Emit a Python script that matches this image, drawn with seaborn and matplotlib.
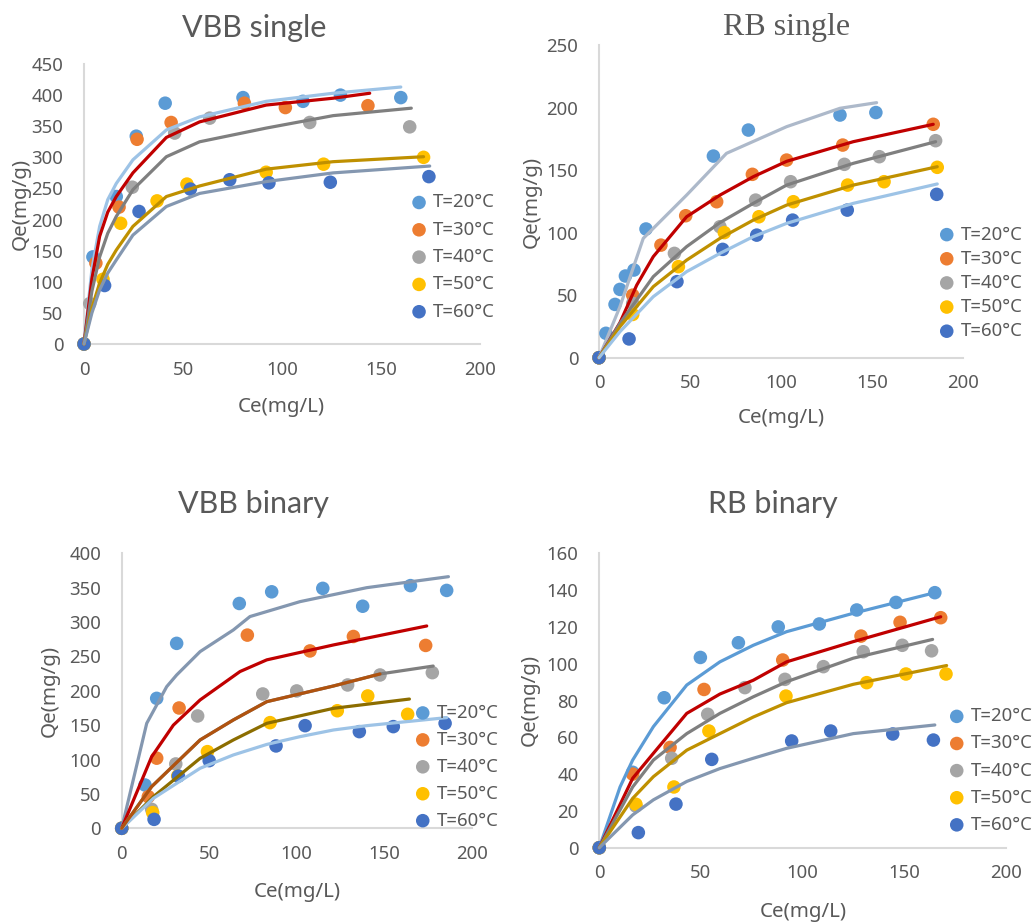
import matplotlib
matplotlib.use("Agg")
import matplotlib.pyplot as plt
import seaborn as sns
import pandas as pd

sns.set_style("white")
plt.rcParams["font.family"] = ["Noto Sans", "DejaVu Sans"]

W, H = 1033, 923
TXT = "#595959"
FS = 13.4
LFS = 14.8

TEMPS = ["T=20°C", "T=30°C", "T=40°C", "T=50°C", "T=60°C"]
PT_COLORS = ["#5B9BD5", "#ED7D31", "#A5A5A5", "#FFC000", "#4472C4"]

# ---------------- VBB single ----------------
vs_px20 = [0, 4.5, 16.3, 26.4, 41, 80.3, 110.6, 129.5, 160]
vs_py20 = [0, 140, 237, 334, 387, 396, 390, 400, 396]
vs_px30 = [0, 6, 17.7, 26.8, 44, 81, 101.7, 143.4]
vs_py30 = [0, 130, 220, 329, 356, 387, 380, 383]
vs_px40 = [0, 2.9, 24.4, 45.8, 63.5, 114, 164.5]
vs_py40 = [0, 65, 252, 339, 363, 356, 349]
vs_px50 = [0, 9.6, 18.5, 36.9, 52, 92, 121, 171.5]
vs_py50 = [0, 104, 194, 230, 257, 276, 289, 300]
vs_px60 = [0, 10.4, 27.8, 53.7, 73.6, 93.4, 124.4, 174.2]
vs_py60 = [0, 94, 213, 249, 264, 259, 260, 269]

vs_cx20 = [0, 4, 7.9, 12, 16.3, 24.7, 41.6, 58.4, 92, 125.8, 160]
vs_cy20 = [0, 120, 189, 232, 258, 296, 344, 365, 390, 403, 413]
vs_cx30 = [0, 4, 7.9, 12, 16.3, 24.7, 41.6, 58.4, 92, 125.8, 144.3]
vs_cy30 = [0, 105, 173, 212, 237, 275, 332, 357, 384, 395, 403]
vs_cx40 = [0, 4, 7.9, 12, 16.3, 24.7, 41.6, 58.4, 92, 125.8, 165.3]
vs_cy40 = [0, 85, 140, 178, 205, 248, 301, 325, 347, 367, 379]
vs_cx50 = [0, 4, 7.9, 12, 16.3, 24.7, 41.6, 58.4, 92, 125.8, 171.5]
vs_cy50 = [0, 58, 98, 128, 151, 189, 237, 254, 281, 293, 301]
vs_cx60 = [0, 4, 7.9, 12, 16.3, 24.7, 41.6, 58.4, 92, 125.8, 174.6]
vs_cy60 = [0, 50, 87, 114, 135, 175, 221, 242, 261, 275, 286]
vs_ccol = ["#9DC3E6", "#C00000", "#7F7F7F", "#BF9000", "#8497B0"]

# ---------------- RB single ----------------
rs_px20 = [0, 3.8, 8.8, 11.5, 14.5, 19.2, 25.8, 62.8, 82, 132.3, 152]
rs_py20 = [0, 19.5, 42.6, 54.6, 65.3, 70.1, 102.9, 161.2, 182, 194, 196]
rs_px30 = [0, 18.5, 34, 47.6, 64.6, 84.2, 103, 133.8, 183.5]
rs_py30 = [0, 50, 90, 113.5, 124.7, 146.6, 158, 170, 186.6]
rs_px40 = [0, 18.5, 41.4, 66.4, 86, 105.2, 134.7, 153.9, 184.8]
rs_py40 = [0, 43.4, 83.4, 104.7, 126, 140.7, 154.6, 160.7, 173.5]
rs_px50 = [0, 18.5, 43.6, 68.8, 87.8, 106.7, 136.5, 156.5, 185.7]
rs_py50 = [0, 34.6, 72.8, 100, 112.7, 124.7, 138, 140.7, 152.2]
rs_px60 = [0, 16.5, 42.8, 67.9, 86.6, 106.3, 136.3, 185.4]
rs_py60 = [0, 15, 60.8, 86.6, 98, 110, 118, 130.6]

rs_cx20 = [0, 11.5, 24.3, 48.1, 70, 103, 132.3, 152.4]
rs_cy20 = [0, 40.8, 95.4, 130, 163.4, 184.7, 199.4, 203.9]
rs_cx30 = [0, 11.5, 20.7, 29.8, 48.1, 66.4, 84.7, 103, 139.6, 183.5]
rs_cy30 = [0, 28, 58, 80.8, 112.7, 130, 144.7, 157, 172.7, 186.6]
rs_cx40 = [0, 11.5, 29.8, 48.1, 66.4, 84.7, 103, 139.6, 184.8]
rs_cy40 = [0, 27.5, 64.8, 88.8, 108, 123.4, 138, 155.4, 172.7]
rs_cx50 = [0, 11.5, 29.8, 48.1, 66.4, 84.7, 103, 139.6, 185.7]
rs_cy50 = [0, 24.8, 56.8, 78, 95.4, 110, 122, 138, 152.7]
rs_cx60 = [0, 11.5, 29.8, 48.1, 66.4, 84.7, 103, 139.6, 185.7]
rs_cy60 = [0, 20.8, 48.8, 68.8, 83.4, 96.8, 107.4, 123.4, 138.9]
rs_ccol = ["#ADB9CA", "#C00000", "#7F7F7F", "#BF9000", "#9DC3E6"]

# ---------------- VBB binary ----------------
vb_px20 = [0, 13.3, 20, 31.4, 67.2, 85.7, 114.9, 137.7, 165, 185.7]
vb_py20 = [0, 63, 189, 269, 327, 344, 349, 323, 353, 346]
vb_px30 = [0, 15.2, 20, 32.8, 71.8, 107.6, 132.4, 173.7]
vb_py30 = [0, 46, 102, 175, 281, 258, 279, 266]
vb_px40 = [0, 17.1, 30.9, 43.4, 80.6, 100, 129.1, 147.6, 177.5]
vb_py40 = [0, 27.6, 93.6, 163.4, 195.4, 199.8, 208.5, 223, 226.4]
vb_px50 = [0, 17.7, 32, 49, 84.8, 123.2, 140.6, 163.4]
vb_py50 = [0, 22.8, 76, 111.5, 153.7, 171, 192.5, 165.8]
vb_px60 = [0, 18.5, 32.4, 50, 88.2, 104.8, 135.8, 155.2, 184.8]
vb_py60 = [0, 13, 76, 98.4, 119.8, 149.3, 140.6, 147.9, 152.7]

vb_cx20 = [0, 14.3, 25.7, 31.4, 44.8, 63.8, 73.3, 101.9, 140, 186.7]
vb_cy20 = [0, 152.7, 206, 223, 257, 288.5, 308, 329.7, 350, 366]
vb_cx30 = [0, 17.1, 29.5, 44.8, 67.6, 82.9, 121, 174.3]
vb_cy30 = [0, 104, 150, 186.7, 228, 245, 266.7, 294.3]
vb_cx40 = [0, 17.1, 44.8, 63.8, 82.9, 121, 147.6, 178]
vb_cy40 = [0, 60.6, 128.5, 157.6, 184.2, 207, 224.5, 236]
vb_cx40b = [0, 17.1, 44.8, 63.8, 82.9, 121, 147.6]
vb_cy40b = [0, 60.6, 128.5, 157.6, 184.2, 207, 224.5]
vb_cx50 = [0, 18.1, 44.8, 63.8, 82.9, 121, 164.4]
vb_cy50 = [0, 46, 101.8, 128.5, 152.7, 174.5, 188]
vb_cx60 = [0, 18.1, 44.8, 63.8, 82.9, 101.9, 121, 140, 185.7]
vb_cy60 = [0, 43.6, 87.3, 106.7, 122, 133.3, 143, 149.3, 161]
vb_ccol = ["#8497B0", "#C00000", "#7F7F7F", "#8C6D00", "#9DC3E6"]

# ---------------- RB binary ----------------
rb_px20 = [0, 16.4, 31.9, 49.7, 68.4, 88, 108.2, 126.6, 145.9, 165]
rb_py20 = [0, 41, 81.5, 103.4, 111.4, 120, 121.6, 129.2, 133.3, 138.6]
rb_px30 = [0, 16.4, 34.8, 51.5, 90.2, 128.7, 147.9, 167.9]
rb_py30 = [0, 40, 54.5, 86, 102, 115, 122.5, 125]
rb_px40 = [0, 18, 35.6, 53.3, 71.6, 91.3, 110.2, 129.8, 149, 163.4]
rb_py40 = [0, 22.6, 48.6, 72.5, 87, 91.5, 98.4, 106.5, 110, 107]
rb_px50 = [0, 18, 36.7, 53.9, 91.8, 131.5, 150.8, 170.5]
rb_py50 = [0, 23.6, 33, 63.4, 82.4, 89.7, 94.4, 94.4]
rb_px60 = [0, 19.2, 37.7, 55.3, 94.6, 113.8, 144.3, 164.3]
rb_py60 = [0, 8.2, 23.7, 48, 58, 63.4, 61.8, 58.5]

rb_cx20 = [0, 10.2, 16.4, 26.6, 43, 59.3, 75.7, 92.1, 124.9, 165]
rb_cy20 = [0, 33, 47.6, 65.8, 88.4, 101, 110, 117.4, 127.4, 138.6]
rb_cx30 = [0, 16.4, 26.6, 43, 59.3, 75.7, 92.1, 124.9, 167.9]
rb_cy30 = [0, 37.7, 51.3, 73, 83.5, 91, 101, 112, 125.5]
rb_cx40 = [0, 16.4, 26.6, 43, 59.3, 75.7, 92.1, 124.9, 163.9]
rb_cy40 = [0, 33, 47.6, 62, 73, 82, 90.2, 103, 113.2]
rb_cx50 = [0, 16.4, 26.6, 43, 59.3, 75.7, 92.1, 124.9, 170.8]
rb_cy50 = [0, 26.8, 38.6, 53, 62, 71, 78.8, 88.8, 99]
rb_cx60 = [0, 16.4, 26.6, 43, 59.3, 75.7, 92.1, 124.9, 165]
rb_cy60 = [0, 17.8, 26, 36, 43, 48.6, 54, 62, 66.7]
rb_ccol = ["#5B9BD5", "#C00000", "#7F7F7F", "#BF9000", "#8497B0"]


fig = plt.figure(figsize=(W / 100, H / 100), dpi=100)


def fx(px):
    return px / W


def fy(py):
    return 1 - py / H


def panel(px0, px1, py0, py1, xmax, ymax, ystep, points, curves, ccols,
          title, tfont, tsize, tpos, leg, lspacing, xlab, ylab, extra=None):
    ax = fig.add_axes([fx(px0), fy(py0), (px1 - px0) / W, (py0 - py1) / H])
    # fitted curves
    for (cx, cy), col in zip(curves, ccols):
        sns.lineplot(x=cx, y=cy, color=col, lw=2.3, sort=False, estimator=None,
                     legend=False, ax=ax, zorder=4, clip_on=False)
    if extra is not None:
        cx, cy, col = extra
        sns.lineplot(x=cx, y=cy, color=col, lw=2.3, sort=False, estimator=None,
                     legend=False, ax=ax, zorder=4, clip_on=False)
    # experimental points
    for (x, y), lab, col in zip(points, TEMPS, PT_COLORS):
        sns.scatterplot(x=x, y=y, color=col, s=95, edgecolor="none", label=lab,
                        ax=ax, zorder=3, clip_on=False)
    ax.set_xlim(0, xmax)
    ax.set_ylim(0, ymax)
    ax.set_xticks(range(0, xmax + 1, 50))
    ax.set_yticks(range(0, ymax + 1, ystep))
    ax.tick_params(length=0, labelsize=FS, labelcolor=TXT)
    ax.tick_params(axis="x", pad=12)
    ax.tick_params(axis="y", pad=14.8)
    for s in ["top", "right"]:
        ax.spines[s].set_visible(False)
    for s in ["left", "bottom"]:
        ax.spines[s].set_color("#D9D9D9")
        ax.spines[s].set_linewidth(1.5)
    ax.set_xlabel("Ce(mg/L)", fontsize=LFS, color=TXT)
    ax.set_ylabel("Qe(mg/g)", fontsize=LFS, color=TXT)
    ax.xaxis.set_label_coords(fx(xlab[0]), fy(xlab[1]), transform=fig.transFigure)
    ax.yaxis.set_label_coords(fx(ylab[0]), fy(ylab[1]), transform=fig.transFigure)
    ax.xaxis.label.set_va("center")
    ax.yaxis.label.set_va("center")
    h, l = ax.get_legend_handles_labels()
    ax.legend(h, l, loc="center left", bbox_to_anchor=(fx(leg[0]), fy(leg[1])),
              bbox_transform=fig.transFigure, frameon=False, borderpad=0,
              borderaxespad=0, handlelength=0.8, handletextpad=0.35,
              labelspacing=lspacing, fontsize=FS, labelcolor=TXT, scatterpoints=1)
    fig.text(fx(tpos[0]), fy(tpos[1]), title, ha="center", va="baseline",
             fontsize=tsize, color=TXT, family=tfont)
    return ax


panel(84, 480, 344, 64, 200, 450, 50,
      [(vs_px20, vs_py20), (vs_px30, vs_py30), (vs_px40, vs_py40),
       (vs_px50, vs_py50), (vs_px60, vs_py60)],
      [(vs_cx20, vs_cy20), (vs_cx30, vs_cy30), (vs_cx40, vs_cy40),
       (vs_cx50, vs_cy50), (vs_cx60, vs_cy60)], vs_ccol,
      "VBB single", ["Lato", "DejaVu Sans"], 22, (254, 37),
      (411.6, 257), 0.5, (281, 407), (21, 204))

panel(599, 963.3, 357.7, 45, 200, 250, 50,
      [(rs_px20, rs_py20), (rs_px30, rs_py30), (rs_px40, rs_py40),
       (rs_px50, rs_py50), (rs_px60, rs_py60)],
      [(rs_cx20, rs_cy20), (rs_cx30, rs_cy30), (rs_cx40, rs_cy40),
       (rs_cx50, rs_cy50), (rs_cx60, rs_cy60)], rs_ccol,
      "RB single", ["Liberation Serif", "DejaVu Serif"], 23, (787, 35),
      (939.3, 282.8), 0.33, (781, 418), (532, 202))

panel(121.7, 471.7, 828.3, 553.3, 200, 400, 50,
      [(vb_px20, vb_py20), (vb_px30, vb_py30), (vb_px40, vb_py40),
       (vb_px50, vb_py50), (vb_px60, vb_py60)],
      [(vb_cx20, vb_cy20), (vb_cx30, vb_cy30), (vb_cx40, vb_cy40),
       (vb_cx50, vb_cy50), (vb_cx60, vb_cy60)], vb_ccol,
      "VBB binary", ["Lato", "DejaVu Sans"], 22, (254, 513),
      (415.3, 766.7), 0.48, (297, 891.7), (50, 691),
      extra=(vb_cx40b, vb_cy40b, "#B0530F"))

panel(599.3, 1006, 847.7, 553.3, 200, 160, 20,
      [(rb_px20, rb_py20), (rb_px30, rb_py30), (rb_px40, rb_py40),
       (rb_px50, rb_py50), (rb_px60, rb_py60)],
      [(rb_cx20, rb_cy20), (rb_cx30, rb_cy30), (rb_cx40, rb_cy40),
       (rb_cx50, rb_cy50), (rb_cx60, rb_cy60)], rb_ccol,
      "RB binary", ["Lato", "DejaVu Sans"], 22, (773, 513),
      (949.3, 770.5), 0.49, (803, 911.7), (530, 700))

fig.savefig("out.png", dpi=100)
